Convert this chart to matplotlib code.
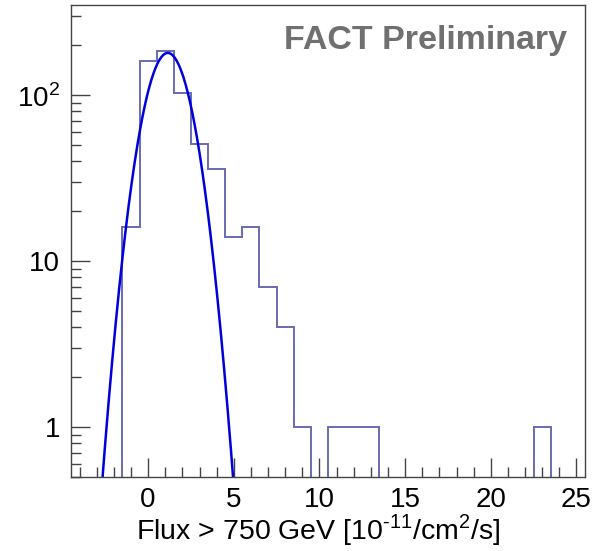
import numpy as np
import matplotlib
matplotlib.use("Agg")
import matplotlib.pyplot as plt
from matplotlib.ticker import FixedLocator, LogLocator, NullFormatter, FixedFormatter

plt.rcParams["font.family"] = ["Liberation Sans", "DejaVu Sans"]
plt.rcParams["mathtext.fontset"] = "custom"
plt.rcParams["mathtext.rm"] = "Liberation Sans"

# histogram: bin centres and counts (width 1)
bin_centers = np.arange(-4, 26)
counts = [0, 0, 0, 16, 162, 185, 103, 51, 36, 14,
          16, 7, 4, 1, 0, 1, 1, 1, 0, 0,
          0, 0, 0, 0, 0, 0, 0, 1, 0, 0]

# gaussian fit parameters
fit_amp = 180.0
fit_mean = 1.15
fit_sigma = 1.11

edges = np.append(bin_centers - 0.5, bin_centers[-1] + 0.5)

fig = plt.figure(figsize=(6.09, 5.51), dpi=100)
ax = fig.add_axes([0.1166, 0.1343, 0.844, 0.8566])

ax.stairs(counts, edges, color="#6a6ab4", lw=1.4, baseline=None)

xf = np.linspace(-4.5, 25.5, 2000)
yf = fit_amp * np.exp(-0.5 * ((xf - fit_mean) / fit_sigma) ** 2)
ax.plot(xf, yf, color="#0000dd", lw=1.8)

ax.set_yscale("log")
ax.set_xlim(-4.5, 25.5)
ax.set_ylim(0.5, 350)

ax.xaxis.set_major_locator(FixedLocator([0, 5, 10, 15, 20, 25]))
ax.xaxis.set_minor_locator(FixedLocator(np.arange(-4, 26)))
ax.yaxis.set_major_locator(FixedLocator([1, 10, 100]))
ax.yaxis.set_major_formatter(FixedFormatter(["1", "10", r"$10^{2}$"]))
ax.yaxis.set_minor_locator(LogLocator(base=10, subs=np.arange(2, 10)))
ax.yaxis.set_minor_formatter(NullFormatter())

ax.tick_params(which="both", direction="in", color="#444444", top=False, right=False,
               labelsize=20, width=1)
ax.tick_params(which="major", length=14)
ax.tick_params(which="minor", length=7)
ax.tick_params(axis="x", pad=7)
ax.tick_params(axis="y", pad=8)

for sp in ax.spines.values():
    sp.set_color("#444444")
    sp.set_linewidth(1)

ax.set_xlabel(r"Flux > 750 GeV [10$^{\text{-}11}$/cm$^{2}$/s]", fontsize=20.5, labelpad=3)
ax.xaxis.set_label_coords(0.48, -0.075)
ax.xaxis.label.set_va("top")

ax.text(0.965, 0.925, "FACT Preliminary", transform=ax.transAxes, ha="right", va="center",
        fontsize=24.5, fontweight="bold", color="#707070")

fig.savefig("out.png", dpi=100)
